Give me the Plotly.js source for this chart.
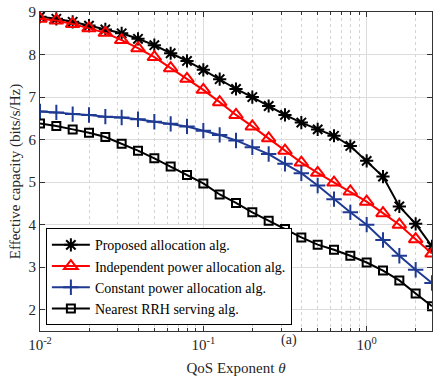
<!DOCTYPE html>
<html><head><meta charset="utf-8">
<script src="https://cdn.plot.ly/plotly-3.0.1.min.js"></script>
<style>body{margin:0;padding:0;background:#fff}#c{width:435px;height:377px}</style>
</head><body><div id="c"></div>
<script>
// QoS exponent values (log-spaced, 0.1 decade steps from 1e-2)
const theta = [0.01,0.01259,0.01585,0.01995,0.02512,0.03162,0.03981,0.05012,0.0631,0.07943,
  0.1,0.1259,0.1585,0.1995,0.2512,0.3162,0.3981,0.5012,0.631,0.7943,1.0,1.259,1.585,1.995,2.512];
const proposed = [8.89,8.84,8.77,8.68,8.59,8.50,8.37,8.22,8.03,7.85,7.64,7.42,7.19,7.00,6.79,6.58,6.40,6.24,6.09,5.85,5.50,5.13,4.43,4.02,3.49];
const independent = [8.84,8.80,8.72,8.62,8.51,8.34,8.15,7.94,7.68,7.43,7.17,6.88,6.58,6.31,6.03,5.74,5.46,5.22,4.99,4.78,4.54,4.27,4.00,3.66,3.32];
const constant = [6.66,6.64,6.60,6.58,6.54,6.52,6.48,6.42,6.37,6.31,6.21,6.11,5.98,5.82,5.66,5.43,5.21,4.92,4.60,4.29,4.00,3.64,3.27,2.94,2.63];
const nearest = [6.38,6.32,6.24,6.16,6.06,5.90,5.74,5.56,5.37,5.17,4.97,4.71,4.51,4.29,4.09,3.90,3.70,3.53,3.41,3.27,3.11,2.92,2.69,2.38,2.08];
const names = ['Proposed allocation alg.','Independent power allocation alg.','Constant power allocation alg.','Nearest RRH serving alg.'];
const xTickVals = [0.01,0.1,1];
const xTickText = ['10<sup>-2</sup>','10<sup>-1</sup>','10<sup>0</sup>'];
const xMinorVals = [0.02,0.03,0.04,0.05,0.06,0.07,0.08,0.09,0.2,0.3,0.4,0.5,0.6,0.7,0.8,0.9,2];
const yTickVals = [2,3,4,5,6,7,8,9];

const blue = '#1f3a93';
const F = 'Liberation Serif, Times New Roman, serif';
function tr(y, name, color, symbol, size){
  return {x: theta, y: y, name: name, type:'scatter', mode:'lines+markers',
    line:{color:color, width:2},
    marker:{symbol:symbol, size:size, color:color, line:{color:color, width:2}}};
}
const data = [
  tr(proposed, names[0], '#000000', 'asterisk-open', 11),
  tr(independent, names[1], '#ff0000', 'triangle-up-open', 12),
  tr(constant, names[2], blue, 'cross-thin-open', 11),
  tr(nearest, names[3], '#000000', 'square-open', 8)
];
const layout = {
  width:435, height:377,
  margin:{l:40, r:3, t:12, b:46},
  paper_bgcolor:'#fff', plot_bgcolor:'#fff',
  font:{family:F, size:15, color:'#262626'},
  showlegend:true,
  legend:{x:0.015, y:0.018, xanchor:'left', yanchor:'bottom', bgcolor:'#fff',
    bordercolor:'#000', borderwidth:1, font:{family:F, size:14, color:'#000'},
    tracegroupgap:0, itemwidth:38},
  xaxis:{type:'log', range:[-2, 0.4], tickmode:'array', tickvals:xTickVals, ticktext:xTickText,
    ticks:'inside', ticklen:5, tickcolor:'#333', showline:true, linecolor:'#333', linewidth:1, mirror:'ticks',
    showgrid:true, gridcolor:'#dcdcdc', gridwidth:1, zeroline:false,
    minor:{tickmode:'array', tickvals:xMinorVals, ticks:'inside', ticklen:3, tickcolor:'#333',
      showgrid:true, gridcolor:'#d2d2d2', griddash:'dot', gridwidth:1},
    tickfont:{family:F, size:15, color:'#262626'},
    title:{text:'QoS Exponent <i>θ</i>', font:{family:F, size:15, color:'#262626'}, standoff:10}},
  yaxis:{range:[1.5, 9], tickmode:'array', tickvals:yTickVals,
    ticks:'inside', ticklen:5, tickcolor:'#333', showline:true, linecolor:'#333', linewidth:1, mirror:'ticks',
    showgrid:true, gridcolor:'#dcdcdc', gridwidth:1, zeroline:false,
    tickfont:{family:F, size:15, color:'#262626'},
    title:{text:'Effective capacity (bits/s/Hz)', font:{family:F, size:15, color:'#262626'}, standoff:4}},
  annotations:[{text:'(a)', xref:'paper', yref:'paper', x:0.635, y:-0.028, showarrow:false,
    xanchor:'center', yanchor:'middle', font:{family:F, size:14, color:'#262626'}}]
};
Plotly.newPlot('c', data, layout, {displayModeBar:false, staticPlot:true});
</script></body></html>
